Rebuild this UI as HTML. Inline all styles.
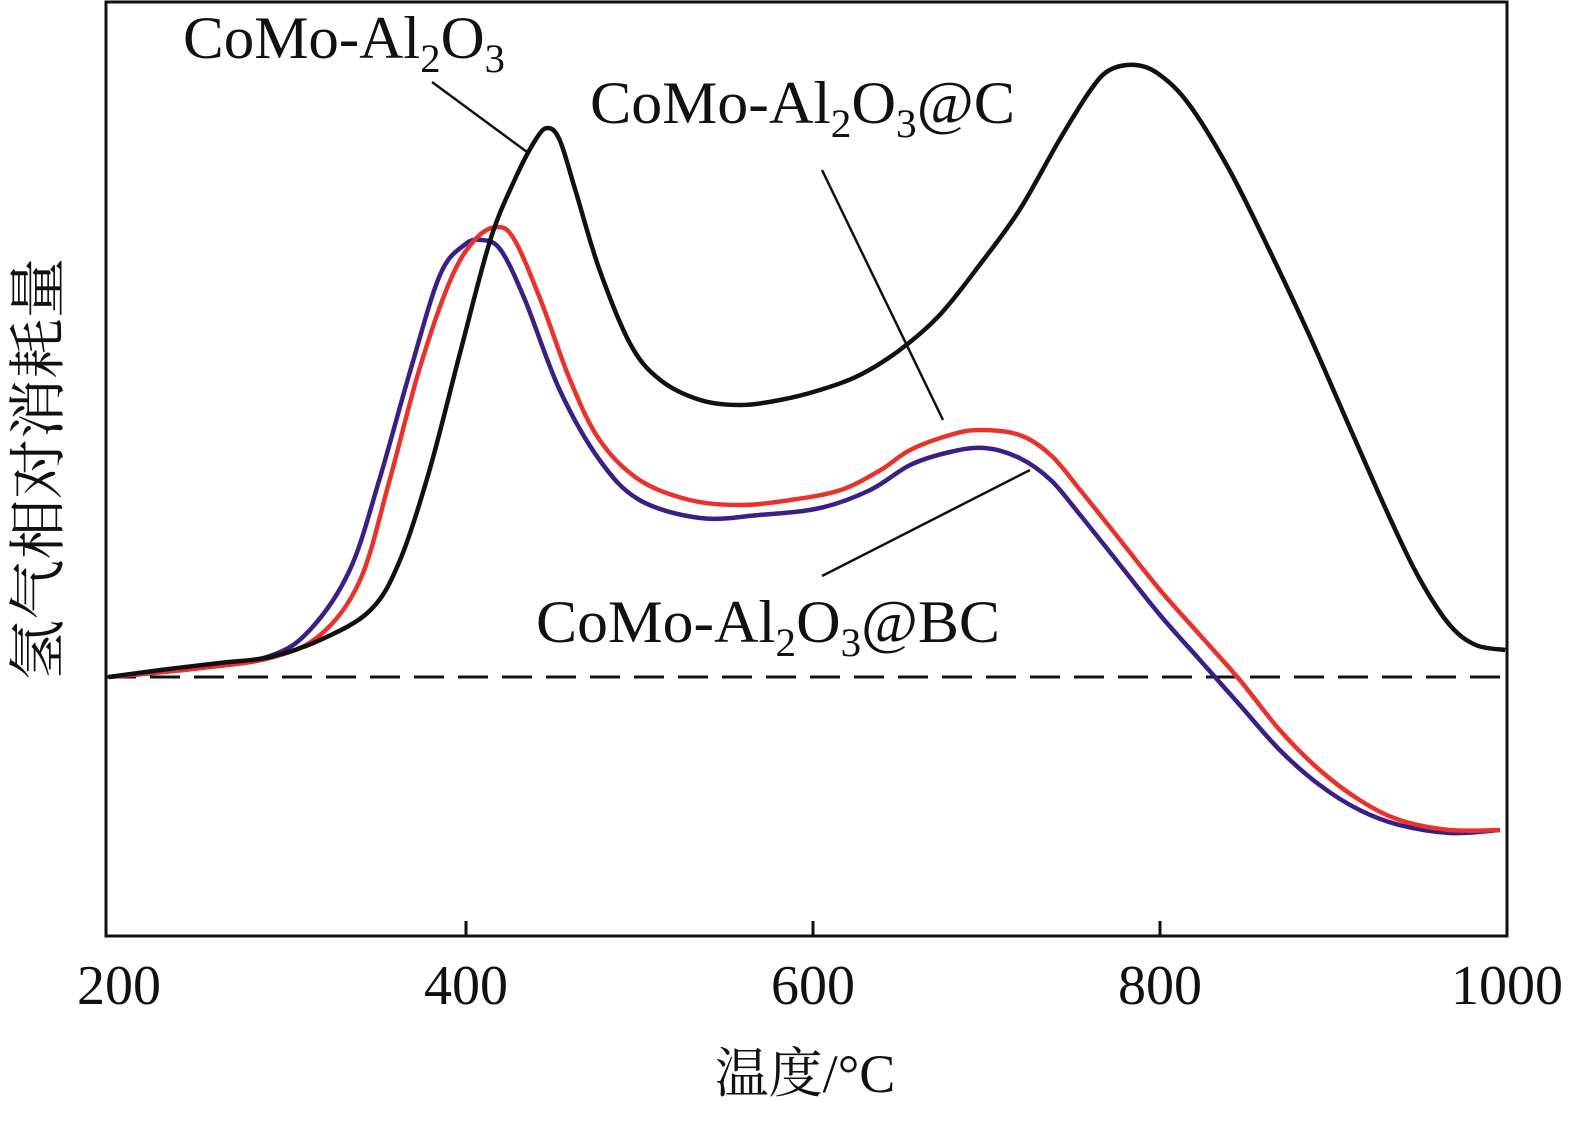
<!DOCTYPE html>
<html><head><meta charset="utf-8"><style>
html,body{margin:0;padding:0;background:#fff;overflow:hidden;width:1585px;height:1123px}
svg{display:block}
svg text{font-family:"Liberation Serif","Noto Serif CJK SC",serif;fill:#111}
</style></head><body>
<svg width="1585" height="1123" viewBox="0 0 1585 1123">
<rect x="106" y="2" width="1401" height="934" fill="none" stroke="#111" stroke-width="3"/>
<line x1="106" y1="677" x2="1507" y2="677" stroke="#111" stroke-width="3" stroke-dasharray="30,14"/>
<g id="ticks"></g>
<g id="series"></g>
<line x1="432" y1="82" x2="527" y2="152" stroke="#111" stroke-width="2.5"/>
<line x1="822" y1="170" x2="943" y2="420" stroke="#111" stroke-width="2.5"/>
<line x1="822" y1="576" x2="1030" y2="470" stroke="#111" stroke-width="2.5"/>
<text x="183" y="58" font-size="60" textLength="322" lengthAdjust="spacingAndGlyphs">CoMo-Al<tspan font-size="40" dy="14">2</tspan><tspan dy="-14">O</tspan><tspan font-size="40" dy="14">3</tspan></text>
<text x="590" y="123" font-size="60" textLength="425" lengthAdjust="spacingAndGlyphs">CoMo-Al<tspan font-size="40" dy="14">2</tspan><tspan dy="-14">O</tspan><tspan font-size="40" dy="14">3</tspan><tspan dy="-14">@C</tspan></text>
<text x="536" y="642" font-size="60" textLength="464" lengthAdjust="spacingAndGlyphs">CoMo-Al<tspan font-size="40" dy="14">2</tspan><tspan dy="-14">O</tspan><tspan font-size="40" dy="14">3</tspan><tspan dy="-14">@BC</tspan></text>
<text x="805" y="1092" font-size="54" text-anchor="middle">温度/°C</text>
<text transform="translate(58,469) rotate(-90)" font-size="58" text-anchor="middle" textLength="422" lengthAdjust="spacingAndGlyphs">氢气相对消耗量</text>
</svg>
<script>
const tickLabels=[200,400,600,800,1000];
const tBlack=[194,224,258,287,316,345,362,379,397,414,428,440,447,454,463,477,495,512,535,558,581,604,627,650,673,696,719,742,760,771,786,800,817,840,863,886,910,933,950,967,982,999];
const vBlack=[0,0.7,1.4,2,3.7,6.7,11.7,20.7,32.7,43.7,49.7,53.7,54.9,53.7,48.7,40.7,33.2,29.7,27.7,27.2,27.7,28.7,30.2,32.7,36.2,41.2,46.7,53.7,58.7,60.7,61.2,60.2,57.2,50.7,42.7,34.2,24.7,15.7,9.7,5.2,3.2,2.7];
const tRed=[194,247,287,316,339,356,373,391,405,418,428,443,460,477,500,529,558,587,616,639,656,679,696,719,737,754,777,800,823,846,869,892,915,938,967,996];
const vRed=[0,0.9,1.9,4.2,9.7,19.7,30.7,39.7,43.7,45,43.7,37.7,29.7,23.7,19.7,17.7,17.2,17.7,18.7,20.7,22.7,24.2,24.7,24.2,22.2,18.7,13.7,8.7,4.2,-0.3,-5.3,-9.3,-12.3,-14.3,-15.3,-15.3];
const tBlue=[194,247,287,310,333,350,368,385,399,409,420,434,454,477,500,535,569,604,633,656,679,699,719,737,754,777,800,823,846,869,892,915,938,967,996];
const vBlue=[0,0.9,2.1,4.7,10.7,19.7,30.7,40.2,43.2,43.7,42.7,37.7,28.7,21.7,17.7,15.9,16.2,16.9,18.7,21.2,22.5,22.9,21.9,19.7,16.2,11.2,6.2,1.7,-2.8,-7.3,-10.8,-13.3,-14.8,-15.6,-15.3];
const xS=t=>466+(t-400)*1.735;
const yS=v=>677-v*10;
const NS='http://www.w3.org/2000/svg';
const tg=document.getElementById('ticks');
tickLabels.forEach((t,i)=>{
  const x=Math.min(Math.max(xS(t),106),1507);
  if(i>0&&i<tickLabels.length-1){
    const l=document.createElementNS(NS,'line');
    l.setAttribute('x1',x);l.setAttribute('x2',x);l.setAttribute('y1',936);l.setAttribute('y2',921);
    l.setAttribute('stroke','#111');l.setAttribute('stroke-width',3);
    
    
    tg.appendChild(l);
  }
  const tx=document.createElementNS(NS,'text');
  tx.setAttribute('x',i==0?119:(i==tickLabels.length-1?1507:x));tx.setAttribute('y',1004);
  tx.setAttribute('font-size',56);tx.setAttribute('text-anchor','middle');
  tx.textContent=t;
  
  
  tg.appendChild(tx);
});
function path(ts,vs){
  const p=ts.map((t,i)=>[xS(t),yS(vs[i])]);
  let d='M'+p[0][0]+','+p[0][1];
  for(let i=0;i<p.length-1;i++){
    const p0=p[Math.max(i-1,0)],p1=p[i],p2=p[i+1],p3=p[Math.min(i+2,p.length-1)];
    d+=' C'+(p1[0]+(p2[0]-p0[0])/6)+','+(p1[1]+(p2[1]-p0[1])/6)+' '+(p2[0]-(p3[0]-p1[0])/6)+','+(p2[1]-(p3[1]-p1[1])/6)+' '+p2[0]+','+p2[1];
  }
  return d;
}
const sg=document.getElementById('series');
[[tBlue,vBlue,'#3b1f88','series-como-al2o3-bc'],[tRed,vRed,'#e8322b','series-como-al2o3-c'],[tBlack,vBlack,'#111','series-como-al2o3']].forEach(s=>{
  const e=document.createElementNS(NS,'path');
  e.setAttribute('d',path(s[0],s[1]));e.setAttribute('fill','none');e.setAttribute('stroke',s[2]);e.setAttribute('stroke-width',4.5);
  
  
  sg.appendChild(e);
});
</script>
</body></html>
